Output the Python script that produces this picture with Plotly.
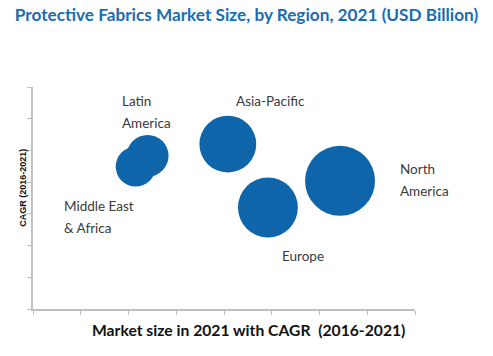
import plotly.graph_objects as go

regions = ["Latin America", "Middle East & Africa", "Asia-Pacific", "Europe", "North America"]
market_size = [0.44, 0.40, 0.81, 0.90, 1.23]   # bubble size (USD Billion, est.)
market_pos = [2.40, 2.15, 4.08, 4.92, 6.43]     # x position (relative market size scale)
cagr = [4.83, 4.49, 5.20, 3.20, 4.04]           # y position (relative CAGR scale)

label_text = ["Latin<br>America", "Middle East<br>& Africa", "Asia-Pacific", "Europe", "North<br>America"]
label_x = [1.82, 0.61, 4.21, 5.17, 7.64]
label_y = [6.21, 2.90, 6.56, 1.67, 4.07]
LINE_GAP = 0.67  # spacing between label lines, in y-axis units

BLUE = "#0E65A9"
AXIS = "#BFBFBF"

fig = go.Figure()
fig.add_trace(go.Scatter(
    x=market_pos, y=cagr, mode="markers",
    marker=dict(size=market_size, sizemode="area", sizeref=1.23 / 2450,
                color=BLUE, opacity=1, line=dict(width=0)),
    text=regions, hoverinfo="text", showlegend=False,
))

for t, x, y in zip(label_text, label_x, label_y):
    lines = t.split("<br>")
    n = len(lines)
    for i, ln in enumerate(lines):
        yy = y + (n - 1) / 2 * LINE_GAP - i * LINE_GAP
        fig.add_annotation(x=x, y=yy, text=ln, showarrow=False, xanchor="left", yanchor="middle",
                           align="left", font=dict(family="Lato", size=13.5, color="#3A3A3A"))

# axis titles as annotations (positioned like the original)
fig.add_annotation(xref="paper", yref="paper", x=0.563, y=-0.095, xanchor="center", yanchor="middle",
                   text="<b>Market size in 2021 with CAGR  (2016-2021)</b>", showarrow=False,
                   font=dict(family="Lato", size=15.7, color="#111111"))
fig.add_annotation(xref="paper", yref="paper", x=-0.027, y=0.545, xanchor="center", yanchor="middle",
                   text="<b>CAGR (2016-2021)</b>", showarrow=False, textangle=-90,
                   font=dict(family="Liberation Sans Narrow, Arial Narrow, Liberation Sans", size=9, color="#111111"))

fig.update_layout(
    width=493, height=356,
    margin=dict(l=33, r=78, t=87, b=47),
    paper_bgcolor="white", plot_bgcolor="white",
    title=dict(text="<b>Protective Fabrics Market Size, by Region, 2021 (USD Billion)</b>",
               x=0.5, xanchor="center", y=1 - 15 / 356, yanchor="middle",
               font=dict(family="Lato", size=17.2, color="#1B6CB3")),
    xaxis=dict(range=[0, 8], dtick=1, showticklabels=False, showgrid=False, zeroline=False,
               showline=True, linecolor=AXIS, linewidth=1.5, ticks="outside", ticklen=4,
               tickcolor=AXIS, fixedrange=True, automargin=False),
    yaxis=dict(range=[0, 7], dtick=1, showticklabels=False, showgrid=False, zeroline=False,
               showline=True, linecolor=AXIS, linewidth=1.5, ticks="outside", ticklen=4,
               tickcolor=AXIS, fixedrange=True, automargin=False),
)

fig.write_html("out.html", config={"displayModeBar": False},
               post_script="document.body.style.margin='0';document.body.style.overflow='hidden';")
